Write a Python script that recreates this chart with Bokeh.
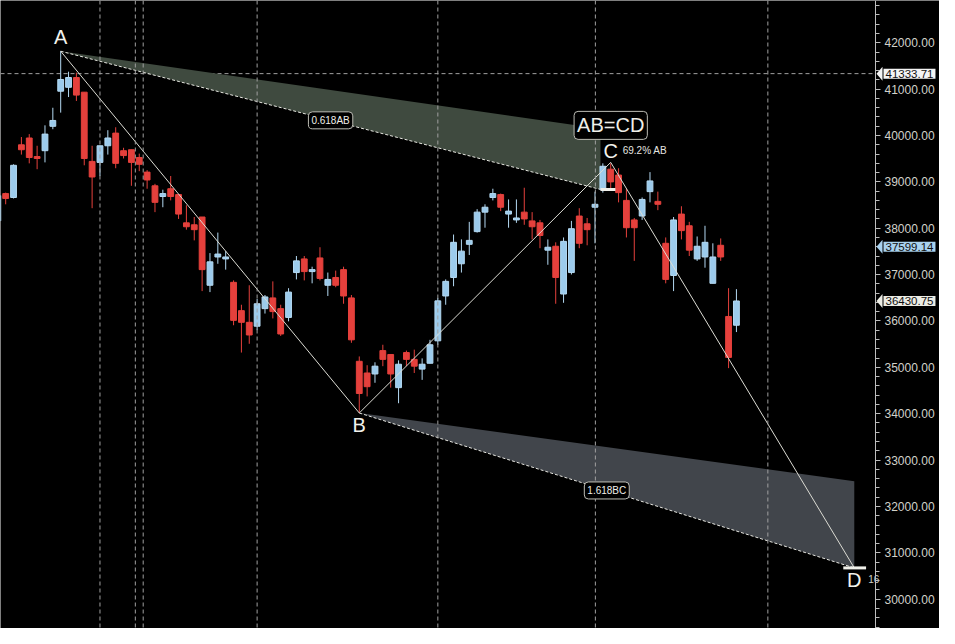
from bokeh.plotting import figure
from bokeh.models import (Span, Label, SingleIntervalTicker, NumeralTickFormatter,
                          Range1d, PolyAnnotation, ColumnDataSource)
from bokeh.core.properties import value
from bokeh.embed import file_html
from bokeh.resources import INLINE

# ---------------- data ----------------
idx = list(range(-1, 94))
opens = [38158, 38747, 38663, 39799, 39946, 39546, 39672, 40198, 40955, 41039,
         41250, 40934, 39441, 39420, 39778, 40051, 39672, 39693, 39525, 39210,
         38915, 38684, 38852, 38726, 38116, 38074, 38242, 36770, 37380, 37338,
         36833, 36223, 35971, 35887, 36266, 36497, 36266, 36076, 37044, 37338,
         37065, 37359, 36770, 36938, 37107, 36497, 35130, 34878, 34857, 35361,
         35277, 34562, 35319, 35172, 34962, 35088, 35572, 36539, 36938, 37233,
         37653, 37927, 38347, 38663, 38726, 38305, 38179, 38347, 38158, 38116,
         37527, 37611, 36581, 37044, 38263, 38095, 38453, 38831, 39273, 39147,
         38600, 38179, 38263, 38789, 38579, 37675, 36981, 38305, 38053, 37338,
         37380, 36812, 37632, 36097, 35908]
highs = [38747, 38768, 39378, 39967, 40030, 39778, 40219, 40598, 41817, 41376,
         41355, 40934, 39778, 39778, 40114, 40177, 39735, 39693, 39609, 39252,
         38957, 38831, 39126, 38726, 38495, 38242, 38242, 37464, 37906, 37506,
         36875, 36350, 36770, 36476, 36560, 36854, 36350, 36707, 37401, 37401,
         37170, 37590, 37044, 37086, 37170, 36560, 35235, 35046, 35109, 35487,
         35277, 35151, 35361, 35382, 35193, 35593, 36497, 36896, 37864, 37759,
         38137, 38411, 38516, 38852, 38747, 38621, 38621, 38873, 38347, 38179,
         37759, 37696, 37801, 38158, 38432, 38221, 38789, 39399, 39399, 39294,
         38852, 38221, 38663, 39210, 38789, 37801, 38242, 38474, 38137, 37822,
         38053, 37675, 37780, 36707, 36686]
lows = [38074, 38516, 38642, 39588, 39399, 39273, 39420, 40135, 40493, 40829,
        40745, 39357, 38432, 39126, 39588, 39294, 39504, 38915, 39231, 38852,
        38347, 38453, 38600, 38200, 37969, 37738, 36644, 36623, 37233, 37107,
        35908, 35319, 35508, 35803, 36160, 36055, 35677, 35992, 36896, 36875,
        36812, 36875, 36539, 36728, 36371, 35529, 34015, 34373, 34667, 35025,
        34562, 34226, 35025, 34878, 34730, 35088, 35487, 36350, 36749, 37044,
        37422, 37906, 38011, 38600, 38369, 38011, 38116, 38074, 37759, 37569,
        37212, 36371, 36392, 37002, 37569, 37632, 37675, 38768, 38852, 38558,
        37801, 37296, 38179, 38558, 38390, 36812, 36644, 37759, 37401, 37296,
        37149, 36812, 37296, 34983, 35761]
closes = [38705, 38642, 39357, 39693, 39525, 39504, 40030, 40324, 41208, 41250,
          40871, 39504, 39105, 39778, 39946, 39399, 39567, 39420, 39378, 39041,
          38558, 38747, 38684, 38305, 38032, 37969, 37107, 37275, 37443, 37380,
          36013, 35971, 35698, 36371, 36518, 36202, 35719, 36623, 37296, 37065,
          37107, 36917, 36896, 36770, 36539, 35593, 34436, 34583, 35025, 35172,
          34857, 35067, 35172, 35025, 35067, 35487, 36434, 36854, 37696, 37506,
          37738, 38347, 38453, 38747, 38453, 38369, 38221, 38200, 38032, 37843,
          37590, 36938, 37717, 37990, 37675, 37969, 38516, 39336, 38999, 38768,
          38011, 38011, 38621, 39020, 38516, 36896, 38179, 37948, 37527, 37611,
          37696, 37380, 37380, 35214, 36431]

# harmonic pattern points (bar index, price)
pt_names = ["A", "B", "C", "D"]
pt_idx = [7, 45, 77, 108]
pt_price = [41817, 34015, 39420, 30675]
fib_ab = [0.618, 0.786]
fib_bc = [1.272, 1.618]
fib_ab_end = 75.7
bc_pct_text = "69.2% AB"

# vertical dashed separators (bar index) and price tags
vlines = [12, 16.5, 17.5, 32, 55, 75.05, 97]
tag_prices = [41333.71, 37599.14, 36430.75]
tag_fill = ["#f4f4f4", "#a9d2ef", "#ecece4"]
hline_price = 41333.71

y_ticks_interval = 1000

# ---------------- figure ----------------
W, H = 939, 628
X0, X1 = -0.66, 110.7          # X1: where the price axis sits
FW = 875                        # chart-area width in px (left of the axis)
px_per_x = FW / (X1 - X0)
XE = X0 + W / px_per_x          # right end incl. axis area
Y0, Y1 = 29368, 42911
px_per_y = H / (Y1 - Y0)

p = figure(width=W, height=H, output_backend="svg", toolbar_location=None,
           x_range=Range1d(X0, XE), y_range=Range1d(Y0, Y1),
           x_axis_location=None, y_axis_location="right",
           background_fill_color="black", border_fill_color="black",
           min_border_left=0, min_border_top=0, min_border_bottom=0,
           min_border_right=0)
p.outline_line_color = None
p.xgrid.visible = False
p.ygrid.visible = False

ax = p.yaxis[0]
ax.fixed_location = X1
ax.ticker = SingleIntervalTicker(interval=y_ticks_interval, num_minor_ticks=5)
ax.formatter = NumeralTickFormatter(format="0.00")
ax.axis_line_color = "#bdbdbd"
ax.major_tick_line_color = "#bdbdbd"
ax.minor_tick_line_color = "#bdbdbd"
ax.major_tick_out = 5
ax.major_tick_in = 0
ax.minor_tick_out = 4
ax.minor_tick_in = 0
ax.major_label_text_color = "#d2d2ca"
ax.major_label_text_font = "Liberation Sans"
ax.major_label_text_font_size = "12px"
ax.major_label_standoff = 4

# vertical dashed lines
for v in vlines:
    p.add_layout(Span(location=v, dimension="height", line_color="#a0a0a0",
                      line_dash="4 3", line_width=1))
p.line([X0, X1], [hline_price, hline_price], line_color="#a0a0a0",
       line_dash="4 3", line_width=1)

# fib zones
A_i, B_i, C_i, D_i = pt_idx
A_p, B_p, C_p, D_p = pt_price
ab = A_p - B_p
bc = C_p - B_p
lvl_ab = [B_p + f * ab for f in fib_ab]
lvl_bc = [C_p - f * bc for f in fib_bc]

p.patch([A_i, fib_ab_end, fib_ab_end], [A_p, lvl_ab[1], lvl_ab[0]],
        fill_color="#3f4a3f", line_color=None)
p.patch([B_i, D_i, D_i], [B_p, lvl_bc[0], lvl_bc[1]],
        fill_color="#41454b", line_color=None)
p.line([A_i, fib_ab_end], [A_p, lvl_ab[0]], line_color="#e6e6e0",
       line_dash="3 2", line_width=1)
p.line([B_i, D_i], [B_p, lvl_bc[1]], line_color="#e6e6e0",
       line_dash="3 2", line_width=1)

# candles
up = [c >= o for o, c in zip(opens, closes)]
src = ColumnDataSource(dict(
    x=idx, o=opens, h=highs, l=lows, c=closes,
    top=[max(o, c) for o, c in zip(opens, closes)],
    bot=[min(o, c) for o, c in zip(opens, closes)],
    fill=["#9ccbec" if u else "#e5403c" for u in up],
    edge=["#b4d9f2" if u else "#e5403c" for u in up],
))
p.segment(x0="x", y0="l", x1="x", y1="h", line_color="edge", line_width=1, source=src)
p.vbar(x="x", width=0.74, top="top", bottom="bot", fill_color="fill",
       line_color="edge", line_width=1, source=src)

# zigzag
p.line(pt_idx, pt_price, line_color="#dcdcd4", line_width=1)

# level bars at C and D
p.segment(x0=[fib_ab_end, D_i - 1.4], y0=[lvl_ab[0], lvl_bc[1]],
          x1=[C_i + 0.6, D_i + 1.5], y1=[lvl_ab[0], lvl_bc[1]],
          line_color="#f0f0ea", line_width=3)

# point letters
fnt = value("Liberation Sans")
offs = {"A": -14, "B": 12, "C": -11, "D": 12}
for n, xi, yp in zip(pt_names, pt_idx, pt_price):
    p.text(x=[xi], y=[yp], text=[n], text_font=fnt, text_font_size="20px",
           text_color="#f2f2ec", text_align="center", text_baseline="alphabetic",
           y_offset=offs[n])
p.text(x=[C_i], y=[C_p], text=[bc_pct_text], text_font=fnt, text_font_size="10px",
       text_color="#e6e6e0", text_align="left", text_baseline="alphabetic",
       x_offset=12, y_offset=-12)
p.text(x=[D_i], y=[D_p], text=["16"], text_font=fnt, text_font_size="10px",
       text_color="#d0d0c8", text_align="left", text_baseline="alphabetic",
       x_offset=14, y_offset=11)

# boxed labels
def boxed(x, y, txt, size, xo=0, yo=0):
    p.add_layout(Label(x=x, y=y, text=txt, x_offset=xo, y_offset=yo,
                       text_font="Liberation Sans", text_font_size=size,
                       text_color="#efefe9", text_align="center",
                       text_baseline="middle", background_fill_color="black",
                       border_line_color="#bdbdb5", border_line_width=1,
                       padding=3, border_radius=4))

boxed((A_i + fib_ab_end) / 2, (A_p + lvl_ab[0]) / 2, f"{fib_ab[0]}AB", "10px")
boxed((B_i + D_i) / 2, (B_p + lvl_bc[1]) / 2, f"{fib_bc[1]}BC", "10px")
boxed(C_i, C_p, "AB=CD", "20px", yo=37)

# price tags on the axis
for tp, tf in zip(tag_prices, tag_fill):
    p.add_layout(PolyAnnotation(
        xs=[X1 + 1 / px_per_x, X1 + 7 / px_per_x, X1 + 7 / px_per_x],
        ys=[tp, tp + 7 / px_per_y, tp - 7 / px_per_y],
        fill_color=tf, fill_alpha=1, line_color=None, level="overlay"))
    p.add_layout(Label(x=X1, y=tp, text=f"{tp:.2f}", x_offset=8,
                       text_font="Liberation Sans", text_font_size="11.5px",
                       text_color="#101010", text_align="left",
                       text_baseline="middle", background_fill_color=tf,
                       padding=(2, 1), level="overlay"))

open("out.html", "w").write(file_html(p, INLINE))
